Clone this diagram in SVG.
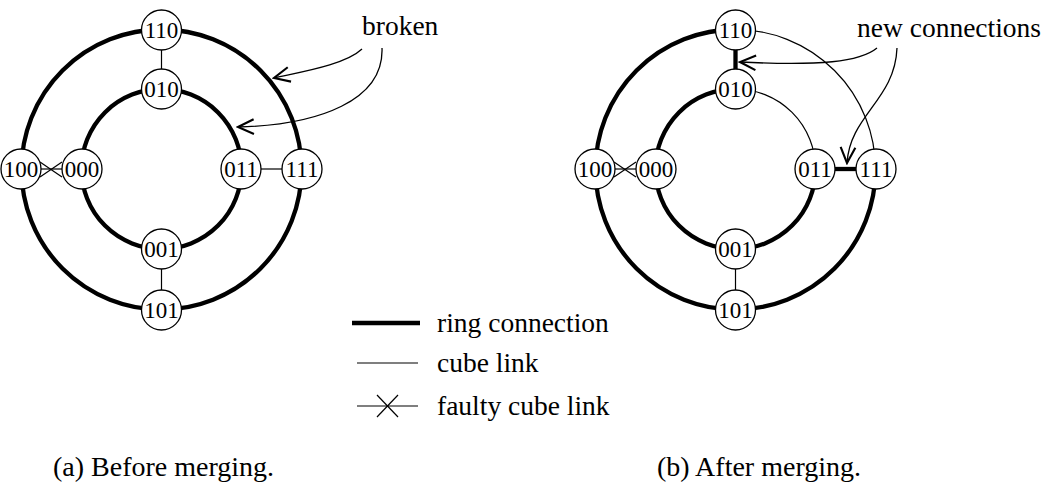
<svg xmlns="http://www.w3.org/2000/svg" width="1041" height="489" viewBox="0 0 1041 489">
<defs>
<style>
.ring{fill:none;stroke:#000;stroke-width:4.3}
.link{fill:none;stroke:#000;stroke-width:1.2}
.thick{fill:none;stroke:#000;stroke-width:4.3}
.arrow{fill:none;stroke:#000;stroke-width:1.3}
.node circle{fill:#fff;stroke:#000;stroke-width:1.3}
.node text{font-family:"Liberation Serif","Times New Roman",serif;font-size:23px;text-anchor:middle;fill:#000}
.lbl{font-family:"Liberation Serif","Times New Roman",serif;font-size:27.5px;fill:#000}
.cap{font-family:"Liberation Serif","Times New Roman",serif;font-size:28px;fill:#000}
</style>
<marker id="open" markerUnits="userSpaceOnUse" markerWidth="20" markerHeight="20" viewBox="-17 -9 19 18" refX="0" refY="0" orient="auto">
<path d="M-15,-7 L0,0 L-15,7" fill="none" stroke="#000" stroke-width="2"/>
</marker>
</defs>

<g id="connectors">
<!-- left diagram rings -->
<circle class="ring" cx="161.5" cy="169.5" r="140"/>
<circle class="ring" cx="161.5" cy="169" r="80"/>
<!-- left cube links -->
<line class="link" x1="161.5" y1="49" x2="161.5" y2="70"/>
<line class="link" x1="161.5" y1="268" x2="161.5" y2="290"/>
<line class="link" x1="261" y1="169" x2="282" y2="169"/>
<!-- left faulty link -->
<line class="link" x1="41" y1="169" x2="62" y2="169"/>
<line class="link" x1="40" y1="162" x2="62" y2="177"/>
<line class="link" x1="40" y1="177" x2="62" y2="162"/>

<!-- right diagram rings -->
<path class="ring" d="M735.5,29.5 A140,140 0 1,0 875.5,169.5"/>
<path class="link" d="M735.5,29.5 A140,140 0 0,1 875.5,169.5"/>
<path class="ring" d="M735.5,89 A80,80 0 1,0 815.5,169"/>
<path class="link" d="M735.5,89 A80,80 0 0,1 815.5,169"/>
<!-- right links -->
<line class="thick" x1="735.5" y1="49" x2="735.5" y2="70"/>
<line class="link" x1="735.5" y1="268" x2="735.5" y2="290"/>
<line class="thick" x1="835" y1="169" x2="856" y2="169"/>
<!-- right faulty link -->
<line class="link" x1="615" y1="169" x2="636" y2="169"/>
<line class="link" x1="614" y1="162" x2="636" y2="177"/>
<line class="link" x1="614" y1="177" x2="636" y2="162"/>

<!-- annotation arrows -->
<path class="arrow" d="M362,49 C345,65 300,72 274,78" marker-end="url(#open)"/>
<path class="arrow" d="M382,48 C384,100 320,125 238,127" marker-end="url(#open)"/>
<path class="arrow" d="M877,48 C860,62 820,66 740,62" marker-end="url(#open)"/>
<path class="arrow" d="M897,48 C895,100 850,115 847,163" marker-end="url(#open)"/>

<!-- legend lines -->
<line class="thick" x1="352" y1="323" x2="420" y2="323"/>
<line class="link" x1="357" y1="363" x2="418" y2="363"/>
<line class="link" x1="357" y1="406" x2="418" y2="406"/>
<line class="link" x1="377" y1="395" x2="398" y2="417"/>
<line class="link" x1="398" y1="395" x2="377" y2="417"/>
</g>

<!-- left diagram nodes -->
<g id="a110" class="node"><circle cx="161.5" cy="30" r="20"/><text x="161.5" y="38">110</text></g>
<g id="a010" class="node"><circle cx="161.5" cy="89" r="20"/><text x="161.5" y="97">010</text></g>
<g id="a100" class="node"><circle cx="21" cy="169" r="20"/><text x="21" y="177">100</text></g>
<g id="a000" class="node"><circle cx="82" cy="169" r="20"/><text x="82" y="177">000</text></g>
<g id="a011" class="node"><circle cx="241" cy="169" r="20"/><text x="241" y="177">011</text></g>
<g id="a111" class="node"><circle cx="302" cy="169" r="20"/><text x="302" y="177">111</text></g>
<g id="a001" class="node"><circle cx="161.5" cy="249" r="20"/><text x="161.5" y="257">001</text></g>
<g id="a101" class="node"><circle cx="161.5" cy="310" r="20"/><text x="161.5" y="318">101</text></g>

<!-- right diagram nodes -->
<g id="b110" class="node"><circle cx="735.5" cy="30" r="20"/><text x="735.5" y="38">110</text></g>
<g id="b010" class="node"><circle cx="735.5" cy="89" r="20"/><text x="735.5" y="97">010</text></g>
<g id="b100" class="node"><circle cx="595" cy="169" r="20"/><text x="595" y="177">100</text></g>
<g id="b000" class="node"><circle cx="656" cy="169" r="20"/><text x="656" y="177">000</text></g>
<g id="b011" class="node"><circle cx="815" cy="169" r="20"/><text x="815" y="177">011</text></g>
<g id="b111" class="node"><circle cx="876" cy="169" r="20"/><text x="876" y="177">111</text></g>
<g id="b001" class="node"><circle cx="735.5" cy="249" r="20"/><text x="735.5" y="257">001</text></g>
<g id="b101" class="node"><circle cx="735.5" cy="310" r="20"/><text x="735.5" y="318">101</text></g>

<!-- labels -->
<text class="lbl" x="362" y="35">broken</text>
<text class="lbl" x="857" y="37">new connections</text>
<text class="lbl" x="437" y="332">ring connection</text>
<text class="lbl" x="437" y="372">cube link</text>
<text class="lbl" x="437" y="415">faulty cube link</text>
<text class="cap" x="53" y="476">(a) Before merging.</text>
<text class="cap" x="657" y="476">(b) After merging.</text>
</svg>
